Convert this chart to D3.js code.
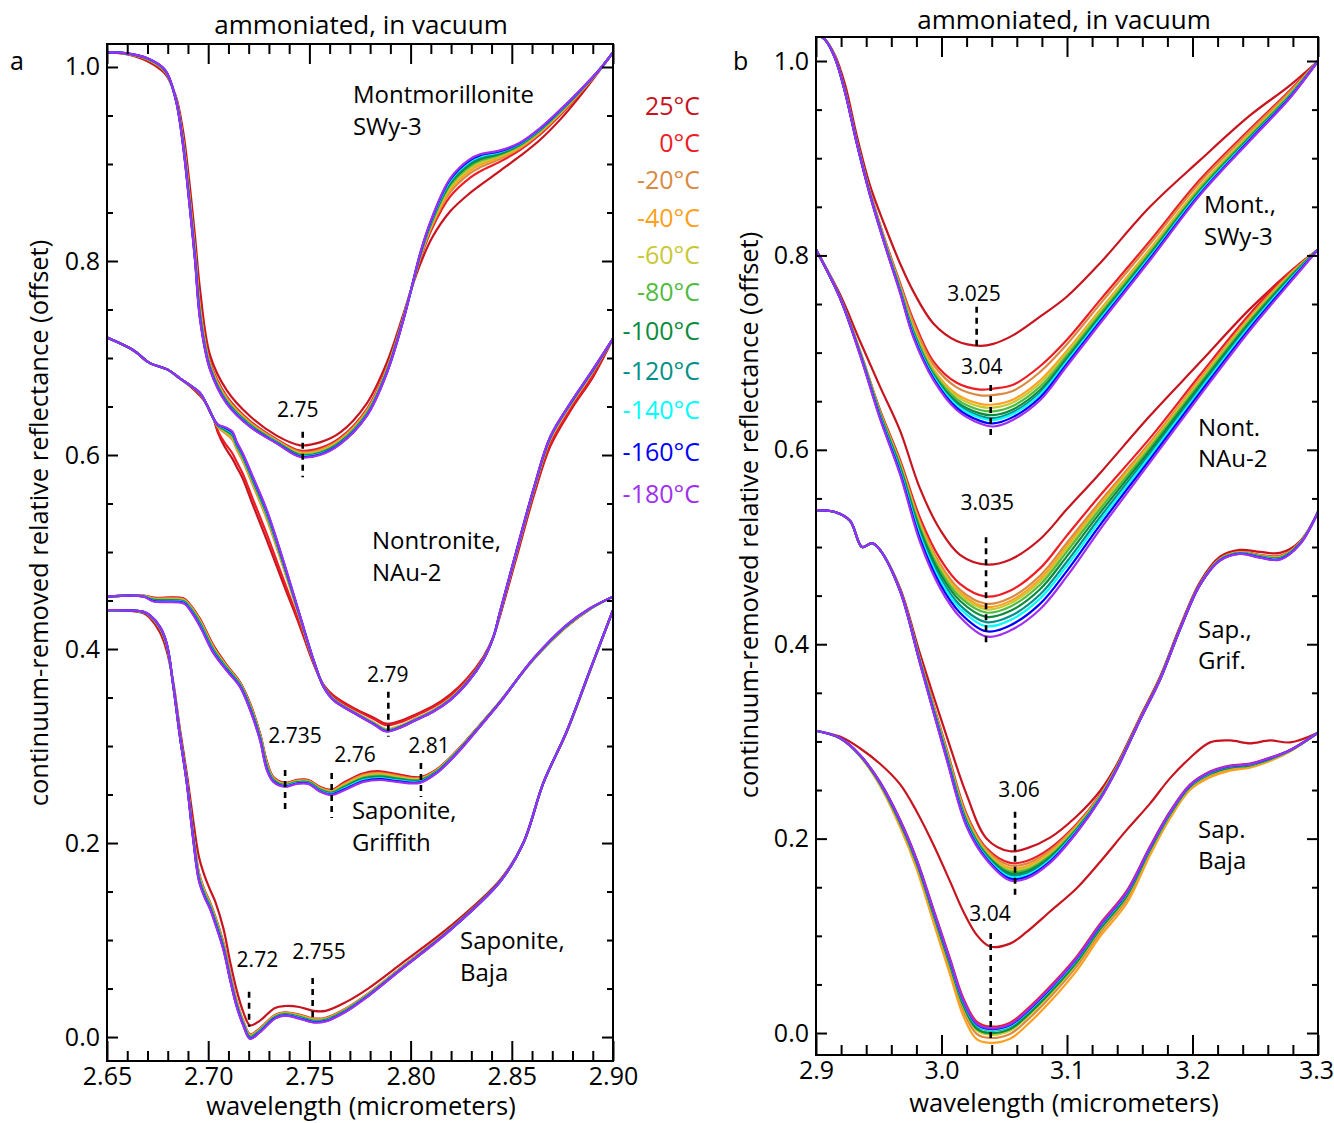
<!DOCTYPE html>
<html><head><meta charset="utf-8">
<script src="https://cdn.jsdelivr.net/npm/d3@7"></script>
<style>body{margin:0;background:#fff} svg text{font-family:"Open Sans",sans-serif;fill:#000}</style>
</head><body><svg id="c" width="1334" height="1123"></svg>
<script>
// ---------------- DATA ----------------
const temperatures = ["25°C","0°C","-20°C","-40°C","-60°C","-80°C","-100°C","-120°C","-140°C","-160°C","-180°C"];
const tempColors = ["#c8141e","#ee1c24","#d98a40","#ffa020","#c8c832","#50bb40","#0a8c3c","#009088","#00ffff","#0000ff","#a030f0"];
const legendY = [106,143,180,218,255,292,331,371,410,452,494];

const xTicksA = [2.65, 2.70, 2.75, 2.80, 2.85, 2.90];
const xTicksB = [2.9, 3.0, 3.1, 3.2, 3.3];
const yTicks = [0.0, 0.2, 0.4, 0.6, 0.8, 1.0];

// Panel a: Montmorillonite SWy-3
const aMontWl   = [2.650,2.660,2.670,2.6787,2.684,2.6875,2.6905,2.6935,2.696,2.7009,2.7091,2.7207,2.7338,2.7454,2.7552,2.7651,2.7783,2.7882,2.7964,2.8002,2.805,2.8106,2.8195,2.8293,2.8343,2.8442,2.854,2.864,2.874,2.8837,2.8936,2.900];
const aMontCold = [1.015,1.014,1.009,0.997,0.966,0.920,0.863,0.800,0.739,0.688,0.653,0.629,0.612,0.598,0.600,0.611,0.640,0.684,0.739,0.770,0.810,0.845,0.885,0.905,0.910,0.914,0.922,0.937,0.956,0.976,0.998,1.015];
const aMontWarm = [1.015,1.013,1.006,0.993,0.970,0.935,0.885,0.825,0.770,0.703,0.667,0.640,0.620,0.610,0.613,0.623,0.653,0.695,0.745,0.770,0.798,0.824,0.851,0.870,0.878,0.893,0.908,0.925,0.946,0.970,0.997,1.015];
const aMontFrac = [1,0.55,0.42,0.34,0.27,0.21,0.16,0.11,0.07,0.035,0];

// Panel a: Nontronite NAu-2
const aNontWl   = [2.650,2.663,2.671,2.680,2.686,2.691,2.696,2.699,2.7025,2.705,2.708,2.712,2.714,2.717,2.722,2.729,2.737,2.745,2.752,2.757,2.762,2.772,2.782,2.788,2.795,2.803,2.811,2.8195,2.828,2.836,2.841,2.844,2.852,2.861,2.869,2.880,2.890,2.900];
const aNontCold = [0.721,0.708,0.695,0.688,0.679,0.672,0.664,0.653,0.638,0.631,0.629,0.624,0.614,0.602,0.578,0.543,0.492,0.437,0.389,0.361,0.347,0.334,0.322,0.315,0.319,0.327,0.335,0.347,0.365,0.389,0.413,0.437,0.499,0.567,0.619,0.657,0.688,0.720];
const aNontWarm = [0.721,0.708,0.695,0.688,0.679,0.671,0.661,0.653,0.638,0.622,0.609,0.596,0.588,0.576,0.549,0.512,0.468,0.425,0.385,0.363,0.352,0.339,0.329,0.323,0.326,0.333,0.341,0.353,0.370,0.392,0.413,0.433,0.492,0.559,0.609,0.649,0.680,0.720];
const aNontFrac = [1,0.8,0.3,0.25,0.2,0.16,0.12,0.09,0.06,0.03,0];

// Panel a: Saponite Griffith
const aGrifWl   = [2.650,2.668,2.673,2.688,2.691,2.696,2.7025,2.709,2.7157,2.7207,2.7256,2.729,2.7322,2.738,2.7437,2.7495,2.7552,2.761,2.7667,2.7767,2.7849,2.7931,2.8046,2.8129,2.8228,2.8343,2.8442,2.8606,2.8771,2.8886,2.900];
const aGrifCold = [0.454,0.454,0.449,0.447,0.440,0.423,0.396,0.378,0.361,0.337,0.306,0.275,0.263,0.258,0.261,0.261,0.253,0.2495,0.254,0.263,0.265,0.263,0.262,0.272,0.292,0.320,0.345,0.390,0.425,0.442,0.454];
const aGrifWarm = [0.454,0.455,0.453,0.452,0.446,0.431,0.404,0.384,0.366,0.344,0.313,0.284,0.268,0.262,0.265,0.265,0.258,0.255,0.262,0.272,0.274,0.271,0.268,0.276,0.295,0.322,0.346,0.389,0.423,0.441,0.454];
const aGrifFrac = [1,0.9,0.8,0.7,0.6,0.5,0.4,0.3,0.2,0.1,0];

// Panel a: Saponite Baja
const aBajaWl   = [2.650,2.668,2.6712,2.6762,2.6795,2.6828,2.686,2.6894,2.6925,2.6955,2.6984,2.7009,2.7034,2.7075,2.7108,2.7141,2.7173,2.7207,2.7256,2.733,2.738,2.745,2.752,2.758,2.768,2.779,2.795,2.8195,2.8442,2.8557,2.8656,2.8771,2.8886,2.900];
const aBajaCold = [0.440,0.4385,0.435,0.423,0.406,0.361,0.310,0.262,0.205,0.160,0.143,0.132,0.117,0.090,0.059,0.031,0.012,-0.002,0.005,0.019,0.022,0.019,0.015,0.016,0.026,0.042,0.069,0.110,0.160,0.200,0.262,0.315,0.378,0.440];
const aBajaWarm = [0.440,0.437,0.432,0.417,0.398,0.365,0.318,0.272,0.225,0.185,0.165,0.152,0.140,0.112,0.078,0.048,0.026,0.012,0.017,0.030,0.032,0.031,0.027,0.027,0.036,0.050,0.075,0.114,0.162,0.200,0.262,0.314,0.377,0.440];
const aBajaFrac = [1,0.35,0.3,0.26,0.22,0.18,0.14,0.1,0.07,0.035,0];

// Panel b: Mont. SWy-3
const bMontWl   = [2.900,2.9072,2.9151,2.9231,2.9327,2.943,2.955,2.9669,2.9775,2.9935,3.0121,3.0307,3.0413,3.0572,3.0785,3.0998,3.1263,3.1661,3.206,3.2458,3.2777,3.300];
const bMontCold = [1.028,1.022,1.003,0.968,0.914,0.862,0.810,0.762,0.716,0.672,0.641,0.627,0.624,0.631,0.651,0.686,0.730,0.795,0.862,0.918,0.962,1.000];
const bMontMid  = [1.028,1.022,1.004,0.970,0.917,0.866,0.816,0.772,0.734,0.691,0.669,0.662,0.663,0.667,0.686,0.713,0.754,0.815,0.878,0.930,0.970,1.000];
const bMontWarm = [1.028,1.022,1.006,0.976,0.922,0.872,0.830,0.792,0.763,0.730,0.712,0.707,0.709,0.718,0.737,0.7575,0.792,0.850,0.898,0.944,0.975,1.000];
const bMontFrac = [1,1,0.83,0.58,0.5,0.4,0.3,0.22,0.17,0.08,0];

// Panel b: Nont. NAu-2
const bNontWl   = [2.900,2.9191,2.935,2.951,2.9669,2.9829,2.9988,3.0147,3.0355,3.0546,3.0785,3.100,3.1263,3.1661,3.206,3.2458,3.2777,3.300];
const bNontCold = [0.806,0.756,0.698,0.632,0.575,0.505,0.458,0.428,0.408,0.414,0.436,0.470,0.518,0.587,0.656,0.723,0.772,0.806];
const bNontMid  = [0.806,0.757,0.702,0.641,0.590,0.530,0.488,0.462,0.449,0.455,0.478,0.512,0.553,0.612,0.677,0.740,0.783,0.806];
const bNontWarm = [0.806,0.760,0.712,0.665,0.620,0.560,0.518,0.492,0.482,0.487,0.508,0.539,0.576,0.635,0.690,0.745,0.783,0.806];
const bNontFrac = [1,1,0.82,0.74,0.68,0.6,0.49,0.36,0.26,0.13,0];

// Panel b: Sap. Grif.
const bGrifWl   = [2.900,2.9151,2.9271,2.9367,2.9446,2.951,2.9669,2.9829,3.0042,3.0201,3.036,3.0546,3.0679,3.0865,3.1077,3.1263,3.1396,3.1582,3.174,3.190,3.206,3.2219,3.2378,3.2538,3.2697,3.2857,3.300];
const bGrifCold = [0.538,0.536,0.527,0.500,0.504,0.497,0.455,0.380,0.281,0.212,0.178,0.157,0.159,0.175,0.206,0.240,0.271,0.322,0.363,0.415,0.461,0.486,0.493,0.489,0.487,0.503,0.536];
const bGrifMid  = [0.538,0.536,0.527,0.500,0.504,0.497,0.456,0.385,0.292,0.225,0.190,0.175,0.177,0.190,0.215,0.245,0.274,0.323,0.364,0.416,0.462,0.488,0.495,0.492,0.491,0.505,0.536];
const bGrifWarm = [0.538,0.536,0.527,0.500,0.504,0.497,0.458,0.390,0.305,0.245,0.200,0.187,0.190,0.201,0.223,0.249,0.276,0.325,0.366,0.418,0.464,0.490,0.497,0.495,0.494,0.506,0.536];
const bGrifFrac = [1,1,0.85,0.7,0.6,0.5,0.4,0.3,0.2,0.1,0];

// Panel b: Sap. Baja
const bBajaWl   = [2.900,2.9191,2.935,2.951,2.9669,2.9802,2.9935,3.0068,3.0174,3.028,3.0386,3.0546,3.0679,3.0865,3.1077,3.1263,3.1476,3.1661,3.182,3.198,3.214,3.2299,3.2458,3.2618,3.2777,3.300];
const bBajaCold = [0.311,0.3035,0.286,0.258,0.219,0.178,0.1265,0.075,0.034,0.010,0.005,0.009,0.0226,0.0463,0.0772,0.111,0.145,0.191,0.227,0.255,0.2685,0.2747,0.2767,0.283,0.291,0.309];
const bBajaWarm = [0.311,0.305,0.293,0.277,0.256,0.228,0.194,0.156,0.125,0.101,0.089,0.092,0.104,0.125,0.149,0.176,0.209,0.236,0.262,0.283,0.299,0.301,0.298,0.301,0.299,0.309];
const bBajaFrac = [1,0.02,-0.12,-0.18,-0.08,-0.06,-0.06,-0.03,-0.02,-0.01,0];

// band-centre markers: [label, wavelength, yTop, yBottom, labelX, labelY]
const markersA = [
  ["2.75", 2.7467, 0.624, 0.577, 2.7442, 0.6471],
  ["2.79", 2.7890, 0.356, 0.3096, 2.7887, 0.3732],
  ["2.735",2.7380, 0.2753, 0.2309, 2.7429, 0.3103],
  ["2.76", 2.7610, 0.2722, 0.2258, 2.7725, 0.2907],
  ["2.81", 2.8051, 0.2825, 0.2474, 2.8091, 0.3000],
  ["2.72", 2.7202, 0.0467, 0.0106, 2.7243, 0.0801],
  ["2.755",2.7516, 0.0608, 0.0158, 2.7547, 0.0879]
];
const markersB = [
  ["3.025",3.0280, 0.7472, 0.7027, 3.0259, 0.7603],
  ["3.04", 3.0392, 0.6667, 0.6101, 3.0320, 0.6855],
  ["3.035",3.0355, 0.5100, 0.3974, 3.0365, 0.5456],
  ["3.06", 3.0586, 0.2277, 0.1420, 3.0618, 0.2500],
  ["3.04", 3.0392, 0.1029, -0.0103, 3.0386, 0.1224]
];
// sample names: [line1, line2, wavelength(left), y(centre line1), y(centre line2)]
const namesA = [
  ["Montmorillonite","SWy-3",2.7715,0.9711,0.9381],
  ["Nontronite,","NAu-2",2.7809,0.5113,0.4784],
  ["Saponite,","Griffith",2.7710,0.2330,0.2000],
  ["Saponite,","Baja",2.8244,0.0990,0.0660]
];
const namesB = [
  ["Mont.,","SWy-3",3.2092,0.8519,0.8189],
  ["Nont.","NAu-2",3.2044,0.6224,0.5905],
  ["Sap.,","Grif.",3.2044,0.4146,0.3827],
  ["Sap.","Baja",3.2044,0.2088,0.1770]
];

// ---------------- DRAW ----------------
const svg = d3.select("#c");
const FS = 24;

function drawPanel(p){
  const x = d3.scaleLinear().domain(p.xDomain).range(p.xRange);
  const y = d3.scaleLinear().domain(p.yDomain).range(p.yRange);
  const [xl,xr] = p.xRange, [yb,yt] = p.yRange;
  const g = svg.append("g");
  const clip = "clip"+p.id;
  svg.append("clipPath").attr("id",clip).append("rect")
     .attr("x",xl).attr("y",yt).attr("width",xr-xl).attr("height",yb-yt);
  const cg = g.append("g").attr("clip-path",`url(#${clip})`);
  const line = d3.line().x(d=>x(d[0])).y(d=>y(d[1])).curve(d3.curveCatmullRom.alpha(0.5));

  p.samples.forEach(s=>{
    temperatures.forEach((t,i)=>{
      const pts = s.wl.map((w,k)=>{
        if(i===0) return [w, s.warm[k]];
        const base = s.mid ? s.mid[k] : s.warm[k];
        return [w, s.cold[k] + s.frac[i]*(base - s.cold[k])];
      });
      cg.append("path").attr("d",line(pts)).attr("fill","none")
        .attr("stroke",tempColors[i]).attr("stroke-width",2.2).attr("stroke-linejoin","round");
    });
  });

  p.markers.forEach(m=>{
    g.append("line").attr("x1",x(m[1])).attr("x2",x(m[1])).attr("y1",y(m[2])).attr("y2",y(m[3]))
     .attr("stroke","#000").attr("stroke-width",2.6).attr("stroke-dasharray","6,5");
    g.append("text").attr("x",x(m[4])).attr("y",y(m[5])).attr("dy","0.35em")
     .attr("text-anchor","middle").attr("font-size",21).text(m[0]);
  });
  p.names.forEach(n=>{
    g.append("text").attr("x",x(n[2])).attr("y",y(n[3])).attr("dy","0.35em").attr("font-size",FS).text(n[0]);
    g.append("text").attr("x",x(n[2])).attr("y",y(n[4])).attr("dy","0.35em").attr("font-size",FS).text(n[1]);
  });

  const styleAxis = a=>{ a.select(".domain").remove(); a.selectAll("line").attr("stroke","#000").attr("stroke-width",2);
     a.selectAll("text").attr("font-size",25).attr("font-family","'Open Sans',sans-serif"); a.attr("font-size",null).attr("font-family",null); };
  const bottom = g.append("g").attr("transform",`translate(0,${yb})`)
   .call(d3.axisBottom(x).tickValues(p.xTicks).tickSize(-20).tickPadding(6).tickFormat(p.xFmt)).call(styleAxis);
  if(p.lastTickShift) bottom.selectAll("text").filter((d,i,n)=>i===n.length-1).attr("dx",p.lastTickShift);
  g.append("g").attr("transform",`translate(0,${yb})`)
   .call(d3.axisBottom(x).tickValues(p.xMinor).tickSize(-10).tickFormat("")).call(styleAxis);
  g.append("g").attr("transform",`translate(0,${yt})`)
   .call(d3.axisTop(x).tickValues(p.xTicks).tickSize(-20).tickFormat("")).call(styleAxis);
  g.append("g").attr("transform",`translate(0,${yt})`)
   .call(d3.axisTop(x).tickValues(p.xMinor).tickSize(-10).tickFormat("")).call(styleAxis);
  g.append("g").attr("transform",`translate(${xl},0)`)
   .call(d3.axisLeft(y).tickValues(yTicks).tickSize(-11).tickPadding(7).tickFormat(d3.format(".1f"))).call(styleAxis);
  g.append("g").attr("transform",`translate(${xl},0)`)
   .call(d3.axisLeft(y).tickValues(p.yMinor).tickSize(-6).tickFormat("")).call(styleAxis);
  g.append("g").attr("transform",`translate(${xr},0)`)
   .call(d3.axisRight(y).tickValues(yTicks).tickSize(-11).tickFormat("")).call(styleAxis);
  g.append("g").attr("transform",`translate(${xr},0)`)
   .call(d3.axisRight(y).tickValues(p.yMinor).tickSize(-6).tickFormat("")).call(styleAxis);
  g.append("rect").attr("x",xl).attr("y",yt).attr("width",xr-xl).attr("height",yb-yt)
   .attr("fill","none").attr("stroke","#000").attr("stroke-width",2);

  g.append("text").attr("x",p.titleX).attr("y",p.titleY).attr("text-anchor","middle").attr("font-size",26).text("ammoniated, in vacuum");
  g.append("text").attr("x",p.titleX).attr("y",p.xLabelY).attr("text-anchor","middle").attr("font-size",25.5).text("wavelength (micrometers)");
  g.append("text").attr("transform",`translate(${p.yLabelX},${p.yLabelMid}) rotate(-90)`).attr("text-anchor","middle")
   .attr("font-size",25.5).text("continuum-removed relative reflectance (offset)");
  g.append("text").attr("x",p.letterX).attr("y",70).attr("font-size",25).text(p.id);
}

const minorOf = (lo,hi,step,majors)=>d3.range(Math.round((hi-lo)/step)+1).map(i=>+(lo+i*step).toFixed(4))
   .filter(v=>!majors.some(m=>Math.abs(m-v)<1e-6));
const yMinor = minorOf(0.0,1.0,0.05,yTicks);

drawPanel({
  id:"a", xDomain:[2.65,2.90], xRange:[107,613], yDomain:[-0.0247,1.0237], yRange:[1061,44],
  xTicks:xTicksA, xMinor:minorOf(2.65,2.90,0.01,xTicksA), yMinor:yMinor, xFmt:d3.format(".2f"),
  titleX:361, titleY:34, xLabelY:1115, yLabelX:48, yLabelMid:523, letterX:10,
  samples:[
    {wl:aMontWl,cold:aMontCold,warm:aMontWarm,frac:aMontFrac},
    {wl:aNontWl,cold:aNontCold,warm:aNontWarm,frac:aNontFrac},
    {wl:aGrifWl,cold:aGrifCold,warm:aGrifWarm,frac:aGrifFrac},
    {wl:aBajaWl,cold:aBajaCold,warm:aBajaWarm,frac:aBajaFrac}
  ],
  markers:markersA, names:namesA
});
drawPanel({
  id:"b", xDomain:[2.9,3.3], xRange:[816,1318], yDomain:[-0.0226,1.0247], yRange:[1055,37],
  xTicks:xTicksB, xMinor:minorOf(2.9,3.3,0.02,xTicksB), yMinor:yMinor, xFmt:d3.format(".1f"), lastTickShift:-2,
  titleX:1064, titleY:29, xLabelY:1112, yLabelX:758, yLabelMid:515, letterX:733,
  samples:[
    {wl:bMontWl,cold:bMontCold,warm:bMontWarm,mid:bMontMid,frac:bMontFrac},
    {wl:bNontWl,cold:bNontCold,warm:bNontWarm,mid:bNontMid,frac:bNontFrac},
    {wl:bGrifWl,cold:bGrifCold,warm:bGrifWarm,mid:bGrifMid,frac:bGrifFrac},
    {wl:bBajaWl,cold:bBajaCold,warm:bBajaWarm,frac:bBajaFrac}
  ],
  markers:markersB, names:namesB
});

svg.append("g").selectAll("text").data(temperatures).join("text")
  .attr("x",700).attr("y",(d,i)=>legendY[i]).attr("dy","0.35em").attr("text-anchor","end")
  .attr("font-size",25).style("fill",(d,i)=>tempColors[i]).text(d=>d);
</script></body></html>
